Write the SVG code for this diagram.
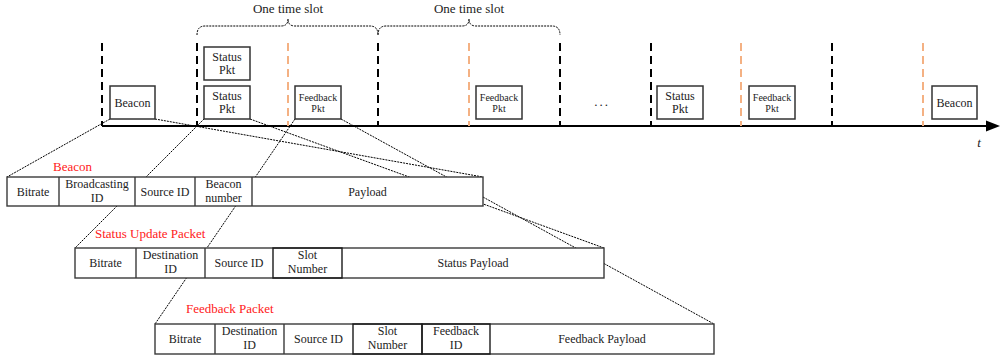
<svg xmlns="http://www.w3.org/2000/svg" width="1000" height="360" viewBox="0 0 1000 360" font-family="'Liberation Serif', 'Times New Roman', serif">
<style>
text{font-family:'Liberation Serif','Times New Roman',serif;fill:#222;text-anchor:middle}
.t12{font-size:12px}
.t10{font-size:10px}
.t13{font-size:13px}
.red{fill:#ff2020;text-anchor:start;font-size:13px}
.box{fill:#fff;stroke:#333;stroke-width:1.5}
.cell{fill:#fff;stroke:#3a3a3a;stroke-width:1.4}
.div{stroke:#3a3a3a;stroke-width:1.4}
.cellk{fill:none;stroke:#1a1a1a;stroke-width:1.4}
.dk{stroke:#000;stroke-width:2;stroke-dasharray:8 5;fill:none}
.do{stroke:#f4b183;stroke-width:2;stroke-dasharray:8 5;fill:none}
.dot{stroke:#000;stroke-width:1;stroke-dasharray:2 1;fill:none}
</style>

<g id="connectors">
<line class="dot" x1="110" y1="119" x2="7" y2="177"/>
<line class="dot" x1="155" y1="119" x2="483" y2="177"/>
<line class="dot" x1="204" y1="119" x2="75" y2="248"/>
<line class="dot" x1="250" y1="119" x2="604" y2="248"/>
<line class="dot" x1="295" y1="119" x2="155" y2="324"/>
<line class="dot" x1="341" y1="119" x2="714" y2="324"/>
</g>

<g id="timeline">
<line x1="102" y1="126" x2="990" y2="126" stroke="#000" stroke-width="2"/>
<polygon points="986,120.5 1000,126 986,131.5" fill="#000"/>
<text x="979" y="147" class="t13" font-style="italic">t</text>
<line class="dk" x1="102" y1="43" x2="102" y2="126"/>
<line class="dk" x1="197" y1="43" x2="197" y2="126"/>
<line class="dk" x1="378" y1="43" x2="378" y2="126"/>
<line class="dk" x1="560" y1="43" x2="560" y2="126"/>
<line class="dk" x1="651" y1="43" x2="651" y2="126"/>
<line class="dk" x1="832" y1="43" x2="832" y2="126"/>
<line class="do" x1="288" y1="43" x2="288" y2="126"/>
<line class="do" x1="469" y1="43" x2="469" y2="126"/>
<line class="do" x1="741" y1="43" x2="741" y2="126"/>
<line class="do" x1="923" y1="43" x2="923" y2="126"/>
</g>

<g id="slot1">
<path class="dot" d="M197,35 Q197,26 205,26 L281,26 Q288,26 288,19 Q288,26 295,26 L370,26 Q378,26 378,35"/>
<text x="288" y="13" class="t13">One time slot</text>
</g>
<g id="slot2">
<path class="dot" d="M378,35 Q378,26 386,26 L462,26 Q469,26 469,19 Q469,26 476,26 L552,26 Q560,26 560,35"/>
<text x="469" y="13" class="t13">One time slot</text>
</g>

<g id="beacon1">
<rect class="box" x="110" y="86" width="45" height="33"/>
<text x="132.5" y="107" class="t12">Beacon</text>
</g>
<g id="status-up">
<rect class="box" x="204" y="47" width="46" height="33"/>
<text x="227" y="61" class="t12">Status</text>
<text x="227" y="74" class="t12">Pkt</text>
</g>
<g id="status1">
<rect class="box" x="204" y="86" width="46" height="33"/>
<text x="227" y="100" class="t12">Status</text>
<text x="227" y="113" class="t12">Pkt</text>
</g>
<g id="feedback1">
<rect class="box" x="295" y="86" width="46" height="33"/>
<text x="318" y="101" class="t10">Feedback</text>
<text x="318" y="112" class="t10">Pkt</text>
</g>
<g id="feedback2">
<rect class="box" x="476" y="86" width="46" height="33"/>
<text x="499" y="101" class="t10">Feedback</text>
<text x="499" y="112" class="t10">Pkt</text>
</g>
<g id="ellipsis">
<text x="602" y="106" class="t13" letter-spacing="2">...</text>
</g>
<g id="status2">
<rect class="box" x="657" y="86" width="46" height="33"/>
<text x="680" y="100" class="t12">Status</text>
<text x="680" y="113" class="t12">Pkt</text>
</g>
<g id="feedback3">
<rect class="box" x="749" y="86" width="46" height="33"/>
<text x="772" y="101" class="t10">Feedback</text>
<text x="772" y="112" class="t10">Pkt</text>
</g>
<g id="beacon2">
<rect class="box" x="932" y="86" width="45" height="33"/>
<text x="954.5" y="107" class="t12">Beacon</text>
</g>

<g id="beacon-frame">
<text x="53" y="171" class="red">Beacon</text>
<rect class="cell" x="7" y="177" width="476" height="29"/>
<line class="div" x1="59" y1="177" x2="59" y2="206"/>
<line class="div" x1="135" y1="177" x2="135" y2="206"/>
<line class="div" x1="195" y1="177" x2="195" y2="206"/>
<line class="div" x1="252" y1="177" x2="252" y2="206"/>
<text x="33" y="196" class="t12">Bitrate</text>
<text x="97" y="188" class="t12">Broadcasting</text>
<text x="97" y="202" class="t12">ID</text>
<text x="165" y="196" class="t12">Source ID</text>
<text x="223.5" y="188" class="t12">Beacon</text>
<text x="223.5" y="202" class="t12">number</text>
<text x="367.5" y="196" class="t12">Payload</text>
</g>

<g id="status-frame">
<text x="95" y="238" class="red">Status Update Packet</text>
<rect class="cell" x="75" y="248" width="529" height="30"/>
<line class="div" x1="136" y1="248" x2="136" y2="278"/>
<line class="div" x1="205" y1="248" x2="205" y2="278"/>
<rect class="cellk" x="273" y="248" width="69" height="30"/>
<text x="105.5" y="267" class="t12">Bitrate</text>
<text x="170.5" y="259" class="t12">Destination</text>
<text x="170.5" y="273" class="t12">ID</text>
<text x="239" y="267" class="t12">Source ID</text>
<text x="307.5" y="259" class="t12">Slot</text>
<text x="307.5" y="273" class="t12">Number</text>
<text x="473" y="267" class="t12">Status Payload</text>
</g>

<g id="feedback-frame">
<text x="186" y="313" class="red">Feedback Packet</text>
<rect class="cell" x="155" y="324" width="559" height="30"/>
<line class="div" x1="215" y1="324" x2="215" y2="354"/>
<line class="div" x1="284" y1="324" x2="284" y2="354"/>
<rect class="cellk" x="353" y="324" width="69" height="30"/>
<rect class="cellk" x="422" y="324" width="68" height="30"/>
<text x="185" y="343" class="t12">Bitrate</text>
<text x="249.5" y="335" class="t12">Destination</text>
<text x="249.5" y="349" class="t12">ID</text>
<text x="318.5" y="343" class="t12">Source ID</text>
<text x="387.5" y="335" class="t12">Slot</text>
<text x="387.5" y="349" class="t12">Number</text>
<text x="456" y="335" class="t12">Feedback</text>
<text x="456" y="349" class="t12">ID</text>
<text x="602" y="343" class="t12">Feedback Payload</text>
</g>
</svg>
